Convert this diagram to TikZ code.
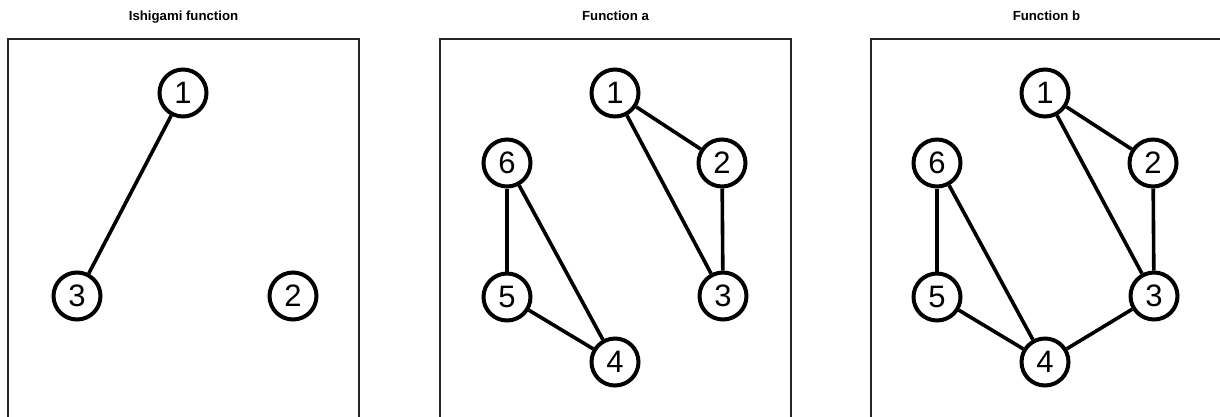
\documentclass[tikz,border=0pt]{standalone}
\usepackage{fontspec}
\setmainfont{Liberation Sans}
\begin{document}
\begin{tikzpicture}[x=1pt,y=-1pt,
  vnode/.style={circle,draw=black,line width=4pt,minimum size=47pt,inner sep=0pt,fill=white,
    font=\fontsize{31}{32}\selectfont},
  edge/.style={line width=3.6pt,black},
  panel/.style={draw=black!85,line width=1.3pt},
  ttl/.style={font=\fontsize{13.2}{15}\selectfont\bfseries,anchor=base}]
\useasboundingbox (0,0) rectangle (1220,416);
\clip (0,0) rectangle (1220,416);
\fill[white] (0,0) rectangle (1220,416);
% panels
\draw[panel] (8,39) rectangle (359,440);
\draw[panel] (440,39) rectangle (791,440);
\draw[panel] (871,39) rectangle (1222,440);
% titles
\node[ttl] (t1) at (183.5,20.5) {Ishigami function};
\node[ttl] (t2) at (615.5,20.5) {Function a};
\node[ttl] (t3) at (1046.5,20.5) {Function b};
% panel 1
\node[vnode] (a1) at (183,93) {1};
\node[vnode] (a3) at (77,296) {3};
\node[vnode] (a2) at (293,296) {2};
\draw[edge] (a1) -- (a3);
% panel 2
\node[vnode] (b1) at (615,93) {1};
\node[vnode] (b2) at (722,163) {2};
\node[vnode] (b6) at (507,163) {6};
\node[vnode] (b5) at (507,297) {5};
\node[vnode] (b3) at (723,296) {3};
\node[vnode] (b4) at (615,362) {4};
\draw[edge] (b1) -- (b2);
\draw[edge] (b1) -- (b3);
\draw[edge] (b2) -- (b3);
\draw[edge] (b6) -- (b5);
\draw[edge] (b6) -- (b4);
\draw[edge] (b5) -- (b4);
% panel 3
\node[vnode] (c1) at (1045,93) {1};
\node[vnode] (c2) at (1153,163) {2};
\node[vnode] (c6) at (937,163) {6};
\node[vnode] (c5) at (937,297) {5};
\node[vnode] (c3) at (1154,296) {3};
\node[vnode] (c4) at (1045,362) {4};
\draw[edge] (c1) -- (c2);
\draw[edge] (c1) -- (c3);
\draw[edge] (c2) -- (c3);
\draw[edge] (c6) -- (c5);
\draw[edge] (c6) -- (c4);
\draw[edge] (c5) -- (c4);
\draw[edge] (c3) -- (c4);
\end{tikzpicture}
\end{document}
